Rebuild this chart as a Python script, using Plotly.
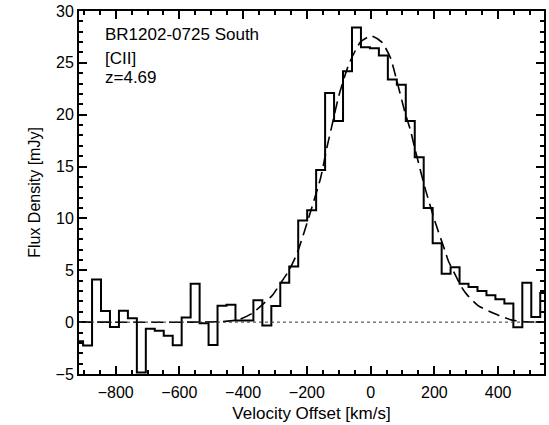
import plotly.graph_objects as go

# Channel centres (km/s) and flux density (mJy) of the [CII] spectrum
velocity = [-916.3, -888.1, -860.0, -831.9, -803.8, -775.6, -747.5, -719.4, -691.3, -663.1,
            -635.0, -606.9, -578.8, -550.6, -522.5, -494.4, -466.3, -438.1, -410.0, -381.9,
            -353.8, -325.6, -297.5, -269.4, -241.3, -213.1, -185.0, -156.9, -128.8, -100.6,
            -72.5, -44.4, -16.3, 11.9, 40.0, 68.1, 96.3, 124.4, 152.5, 180.6,
            208.8, 236.9, 265.0, 293.1, 321.3, 349.4, 377.5, 405.6, 433.8, 461.9,
            490.0, 518.1, 546.3]
flux = [-1.85, -2.25, 4.1, 1.08, -0.48, 1.1, 0.38, -4.85, -0.64, -0.83,
        -1.3, -2.22, 0.44, 3.7, -0.1, -2.2, 1.58, 1.68, 0.15, 0.15,
        2.12, -0.32, 1.55, 3.8, 5.36, 9.8, 10.8, 14.67, 22.1, 19.4,
        24.2, 28.4, 26.5, 26.4, 25.7, 23.4, 22.9, 19.4, 15.9, 11.0,
        7.6, 4.67, 5.3, 3.7, 3.4, 3.0, 2.6, 2.2, 1.8, -0.5,
        3.8, 0.5, 2.8]

# Fitted profile (dashed)
fit_v = [-915, -560, -480, -440, -412, -371, -350, -308, -287, -256, -230, -188, -157,
         -136, -121, -100, -69, -32, 2, 35, 62, 82, 108, 124, 140, 171, 202, 233, 244,
         270, 285, 301, 337, 390, 441, 490, 544]
fit_y = [0, 0, 0.04, 0.12, 0.25, 0.86, 1.4, 2.6, 3.55, 5.0, 6.7, 10.7, 13.9,
         17.0, 19.0, 21.8, 24.8, 27.0, 27.6, 27.0, 25.5, 23.3, 20.2, 18.6, 16.6, 12.9, 9.7, 6.9, 5.9,
         4.3, 3.4, 2.7, 1.6, 0.8, 0.22, 0.03, 0]

labels = ["BR1202-0725 South", "[CII]", "z=4.69"]
label_y = [27.7, 25.4, 23.6]

x_ticks = [-800, -600, -400, -200, 0, 200, 400]
y_ticks = [-5, 0, 5, 10, 15, 20, 25, 30]

FONT = "Liberation Sans, Arial, Helvetica, sans-serif"

fig = go.Figure()
fig.add_hline(y=0, line=dict(color="#333333", width=1, dash="dot"))
fig.add_trace(go.Scatter(x=fit_v, y=fit_y, mode="lines",
                         line=dict(color="black", width=1.6, dash="12px,6px", shape="spline", smoothing=0.6),
                         hoverinfo="skip"))
fig.add_trace(go.Scatter(x=velocity, y=flux, mode="lines",
                         line=dict(color="black", width=2, shape="hvh")))

for t, yv in zip(labels, label_y):
    fig.add_annotation(x=-840, y=yv, text=t, showarrow=False, xanchor="left", yanchor="middle",
                       font=dict(family=FONT, size=17, color="black"))

axis_common = dict(showgrid=False, zeroline=False, showline=True, linecolor="black", linewidth=2,
                   mirror="allticks", ticks="inside", ticklen=8, tickwidth=1.8, tickcolor="black",
                   ticklabeloverflow="allow",
                   tickfont=dict(family=FONT, size=16, color="black"))

fig.update_xaxes(range=[-915, 544], tickmode="array", tickvals=x_ticks, ticklabelstandoff=3,
                 minor=dict(dtick=50, tick0=0, ticks="inside", ticklen=4, tickwidth=1.8, tickcolor="black"),
                 title=dict(text="Velocity Offset [km/s]", font=dict(family=FONT, size=17, color="black"), standoff=7),
                 **axis_common)
fig.update_yaxes(range=[-5, 30], tickmode="array", tickvals=y_ticks,
                 minor=dict(dtick=1, tick0=0, ticks="inside", ticklen=4, tickwidth=1.8, tickcolor="black"),
                 title=dict(text="Flux Density [mJy]", font=dict(family=FONT, size=16, color="black"), standoff=11),
                 **axis_common)

fig.update_layout(width=549, height=425, margin=dict(l=79, r=3, t=7, b=51),
                  paper_bgcolor="white", plot_bgcolor="white", showlegend=False,
                  font=dict(family=FONT, color="black"))

fig.write_html("out.html", config={"displayModeBar": False},
               post_script="document.body.style.margin='0px';")
